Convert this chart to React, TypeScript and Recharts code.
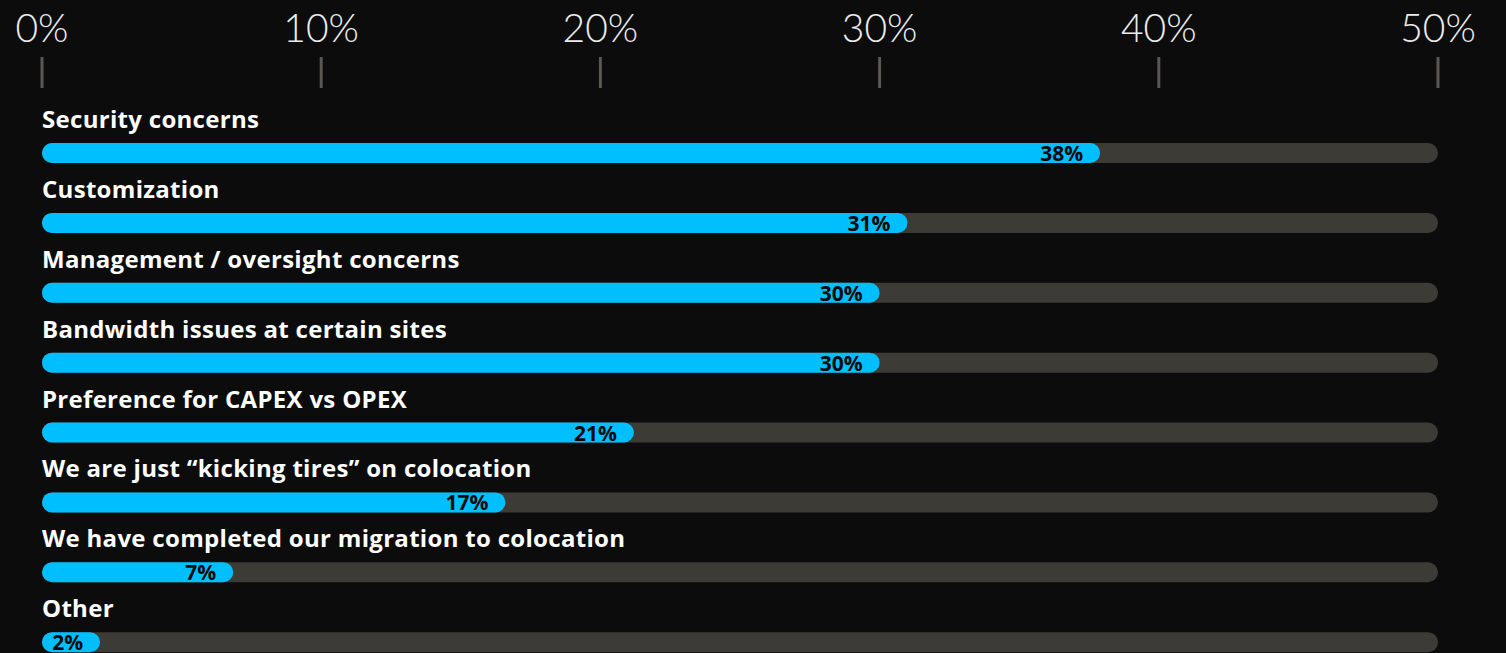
import React from "react";
import { BarChart, Bar, XAxis, YAxis, LabelList } from "recharts";

const categories = [
  "Security concerns",
  "Customization",
  "Management / oversight concerns",
  "Bandwidth issues at certain sites",
  "Preference for CAPEX vs OPEX",
  "We are just \u201ckicking tires\u201d on colocation",
  "We have completed our migration to colocation",
  "Other",
];
const values = [37.9, 31.0, 30.0, 30.0, 21.2, 16.6, 6.85, 2.08];
const valueLabels = ["38%", "31%", "30%", "30%", "21%", "17%", "7%", "2%"];
const ticks = [0, 10, 20, 30, 40, 50];

const data = categories.map((name, i) => ({
  name,
  value: values[i],
  label: valueLabels[i],
}));

const BLUE = "#00bfff";
const TRACK = "#3d3b36";

const AxisTick = (props: any) => {
  const { x, payload } = props;
  return (
    <g>
      <text
        x={x}
        y={42}
        textAnchor="middle"
        fill="#ececec"
        fontFamily="Lato, 'Open Sans', sans-serif"
        fontWeight={300}
        fontSize={39}
      >
        {payload.value}%
      </text>
      <line x1={x} x2={x} y1={57} y2={88} stroke="#5a5752" strokeWidth={3} />
    </g>
  );
};

const NameLabel = (props: any) => {
  const { x, y, value } = props;
  return (
    <text
      x={x}
      y={y - 15}
      fill="#ffffff"
      fontFamily="'Open Sans', sans-serif"
      fontWeight={700}
      fontSize={24}
      letterSpacing={0.3}
    >
      {value}
    </text>
  );
};

const ValueLabel = (props: any) => {
  const { x, y, width, height, value } = props;
  return (
    <text
      x={x + width - 17}
      y={y + height / 2 + 8}
      textAnchor="end"
      fill="#0a0a0a"
      fontFamily="'Open Sans', sans-serif"
      fontWeight={700}
      fontSize={21}
    >
      {value}
    </text>
  );
};

export default function App() {
  return (
    <div
      style={{
        position: "absolute",
        left: 0,
        top: 0,
        width: 1506,
        height: 653,
        overflow: "hidden",
        background: "#0c0c0c",
      }}
    >
      <BarChart
        width={1506}
        height={677}
        data={data}
        layout="vertical"
        margin={{ top: 0, right: 68, bottom: 0, left: 42 }}
        barCategoryGap={0}
      >
        <XAxis
          type="number"
          orientation="top"
          domain={[0, 50]}
          ticks={ticks}
          height={118}
          axisLine={false}
          tickLine={false}
          tick={<AxisTick />}
          interval={0}
        />
        <YAxis type="category" dataKey="name" hide width={0} />
        <Bar
          dataKey="value"
          fill={BLUE}
          barSize={20}
          radius={10}
          background={{ fill: TRACK, radius: 10 } as any}
          isAnimationActive={false}
        >
          <LabelList dataKey="name" content={<NameLabel />} />
          <LabelList dataKey="label" content={<ValueLabel />} />
        </Bar>
      </BarChart>
    </div>
  );
}
